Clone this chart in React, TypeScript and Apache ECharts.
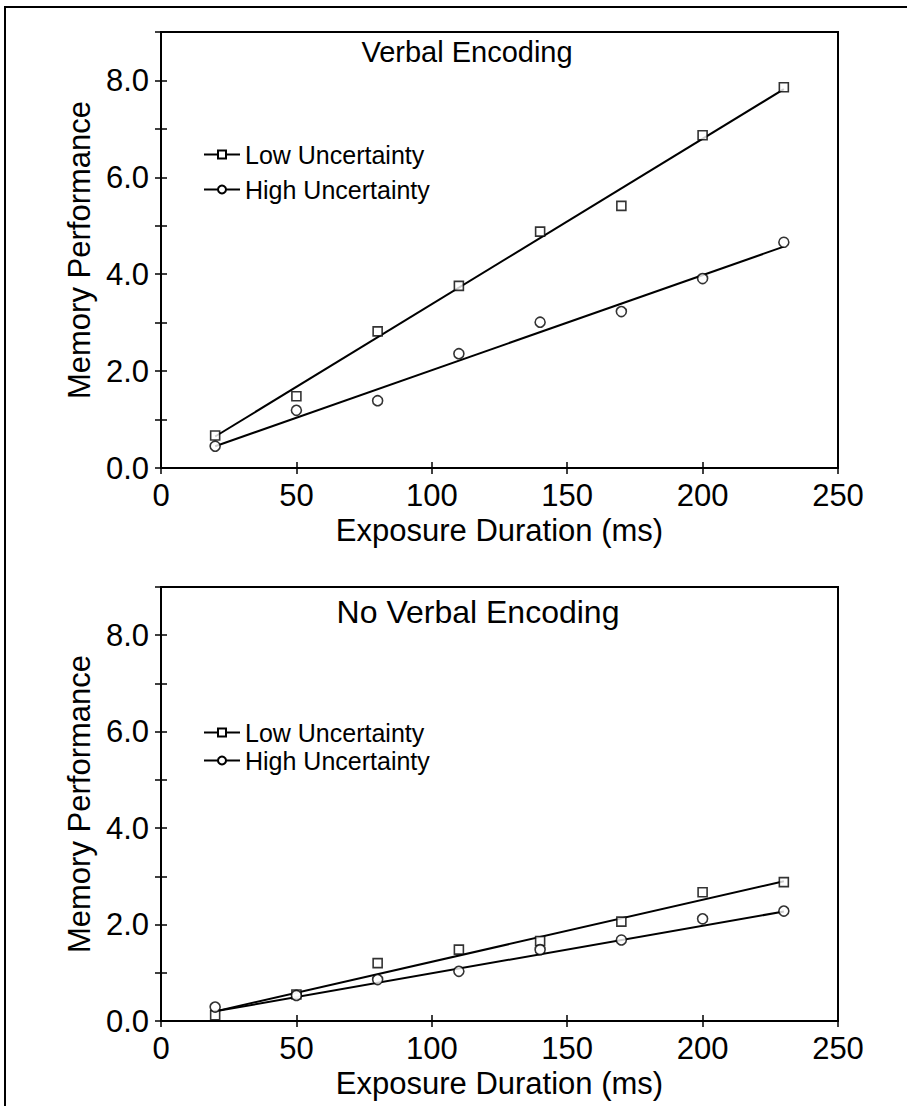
import React, { useEffect, useRef } from "react";
import * as echarts from "echarts";

const durations = [20, 50, 80, 110, 140, 170, 200, 230];
const verbalLow = [0.67, 1.48, 2.82, 3.76, 4.88, 5.41, 6.87, 7.86];
const verbalHigh = [0.45, 1.19, 1.39, 2.36, 3.01, 3.23, 3.91, 4.66];
const noVerbalLow = [0.12, 0.55, 1.2, 1.48, 1.66, 2.06, 2.67, 2.88];
const noVerbalHigh = [0.29, 0.53, 0.86, 1.03, 1.48, 1.68, 2.12, 2.28];

const fitX = [20, 230];
const verbalLowFit = [0.65, 7.82];
const verbalHighFit = [0.45, 4.57];
const noVerbalLowFit = [0.2, 2.9];
const noVerbalHighFit = [0.2, 2.27];

const panelTitles = ["Verbal Encoding", "No Verbal Encoding"];
const seriesNames = ["Low Uncertainty", "High Uncertainty"];
const xAxisName = "Exposure Duration (ms)";
const yAxisName = "Memory Performance";

const FONT = "'Liberation Sans', Arial, Helvetica, sans-serif";

const pairs = (xs: number[], ys: number[]) => xs.map((x, i) => [x, ys[i]]);

export default function App() {
  const ref = useRef<HTMLDivElement>(null);

  useEffect(() => {
    if (!ref.current) return;
    const chart = echarts.init(ref.current, null, { renderer: "svg" });

    const grids = [
      { left: 161, top: 32, width: 677, height: 436 },
      { left: 161, top: 587, width: 677, height: 434 },
    ];

    const xAxes: any[] = [];
    const yAxes: any[] = [];
    grids.forEach((_, g) => {
      xAxes.push({
        type: "value",
        gridIndex: g,
        min: 0,
        max: 250,
        interval: 50,
        name: xAxisName,
        nameLocation: "middle",
        nameGap: 47,
        nameTextStyle: { fontFamily: FONT, fontSize: 31, color: "#000", verticalAlign: "top" },
        axisLine: { show: true, lineStyle: { color: "#000", width: 2 } },
        axisTick: { show: true, length: 6, lineStyle: { color: "#000", width: 1.5 } },
        axisLabel: { fontFamily: FONT, fontSize: 31, color: "#000", margin: 12 },
        splitLine: { show: false },
      });
      xAxes.push({
        type: "value",
        gridIndex: g,
        min: 0,
        max: 250,
        interval: 50,
        position: "bottom",
        axisLine: { show: false },
        axisTick: { show: true, inside: true, length: 6, lineStyle: { color: "#000", width: 1.5 } },
        axisLabel: { show: false },
        splitLine: { show: false },
      });
      yAxes.push({
        type: "value",
        gridIndex: g,
        min: 0,
        max: 9,
        interval: 1,
        name: yAxisName,
        nameLocation: "middle",
        nameGap: 64,
        nameTextStyle: { fontFamily: FONT, fontSize: 31, color: "#000" },
        axisLine: { show: true, lineStyle: { color: "#000", width: 2 } },
        axisTick: { show: true, length: 6, lineStyle: { color: "#000", width: 1.5 } },
        axisLabel: {
          fontFamily: FONT,
          fontSize: 31,
          color: "#000",
          margin: 12,
          formatter: (v: number) => (Math.round(v) % 2 === 0 && v < 9 ? v.toFixed(1) : ""),
        },
        splitLine: { show: false },
      });
      yAxes.push({
        type: "value",
        gridIndex: g,
        min: 0,
        max: 9,
        interval: 1,
        position: "left",
        axisLine: { show: false },
        axisTick: { show: true, inside: true, length: 6, lineStyle: { color: "#000", width: 1.5 } },
        axisLabel: { show: false },
        splitLine: { show: false },
      });
    });

    const panels = [
      { low: verbalLow, high: verbalHigh, lowFit: verbalLowFit, highFit: verbalHighFit },
      { low: noVerbalLow, high: noVerbalHigh, lowFit: noVerbalLowFit, highFit: noVerbalHighFit },
    ];

    const series: any[] = [];
    panels.forEach((p, g) => {
      const xi = g * 2;
      const yi = g * 2;
      series.push({
        type: "line",
        name: seriesNames[0],
        xAxisIndex: xi,
        yAxisIndex: yi,
        data: pairs(fitX, p.lowFit),
        showSymbol: false,
        symbol: "rect",
        symbolSize: 8,
        lineStyle: { color: "#000", width: 2 },
        itemStyle: { color: "#fff", borderColor: "#000", borderWidth: 1.5 },
        silent: true,
      });
      series.push({
        type: "line",
        name: seriesNames[1],
        xAxisIndex: xi,
        yAxisIndex: yi,
        data: pairs(fitX, p.highFit),
        showSymbol: false,
        symbol: "circle",
        symbolSize: 8,
        lineStyle: { color: "#000", width: 2 },
        itemStyle: { color: "#fff", borderColor: "#000", borderWidth: 1.5 },
        silent: true,
      });
      series.push({
        type: "scatter",
        name: seriesNames[0],
        xAxisIndex: xi,
        yAxisIndex: yi,
        data: pairs(durations, p.low),
        symbol: "rect",
        symbolSize: 9,
        itemStyle: { color: "#fff", borderColor: "#000", borderWidth: 1.6 },
        z: 5,
      });
      series.push({
        type: "scatter",
        name: seriesNames[1],
        xAxisIndex: xi,
        yAxisIndex: yi,
        data: pairs(durations, p.high),
        symbol: "circle",
        symbolSize: 10,
        itemStyle: { color: "#fff", borderColor: "#000", borderWidth: 1.6 },
        z: 5,
      });
    });

    const legendBase = {
      orient: "vertical",
      left: 198,
      itemWidth: 36,
      itemHeight: 10,
      selectedMode: false,
      textStyle: { fontFamily: FONT, fontSize: 25, color: "#000", lineHeight: 25 },
      data: seriesNames,
    };

    const option: any = {
      animation: false,
      backgroundColor: "#fff",
      grid: grids.map((g) => ({ ...g, show: true, borderColor: "#000", borderWidth: 2, backgroundColor: "transparent" })),
      xAxis: xAxes,
      yAxis: yAxes,
      legend: [
        { ...legendBase, top: 137, itemGap: 10 },
        { ...legendBase, top: 715, itemGap: 3 },
      ],
      series,
      graphic: [
        {
          type: "rect",
          shape: { x: 5, y: 7, width: 1000, height: 1200 },
          style: { fill: "none", stroke: "#000", lineWidth: 2 },
          silent: true,
        },
        {
          type: "text",
          x: 467,
          y: 52,
          style: { text: panelTitles[0], fontFamily: FONT, fontSize: 29, fill: "#000", align: "center", verticalAlign: "middle" },
        },
        {
          type: "text",
          x: 478,
          y: 612,
          style: { text: panelTitles[1], fontFamily: FONT, fontSize: 32, fill: "#000", align: "center", verticalAlign: "middle" },
        },
      ],
    };

    chart.setOption(option);
    return () => chart.dispose();
  }, []);

  return (
    <div
      ref={ref}
      style={{ position: "fixed", left: 0, top: 0, width: 907, height: 1106, background: "#fff" }}
    />
  );
}
